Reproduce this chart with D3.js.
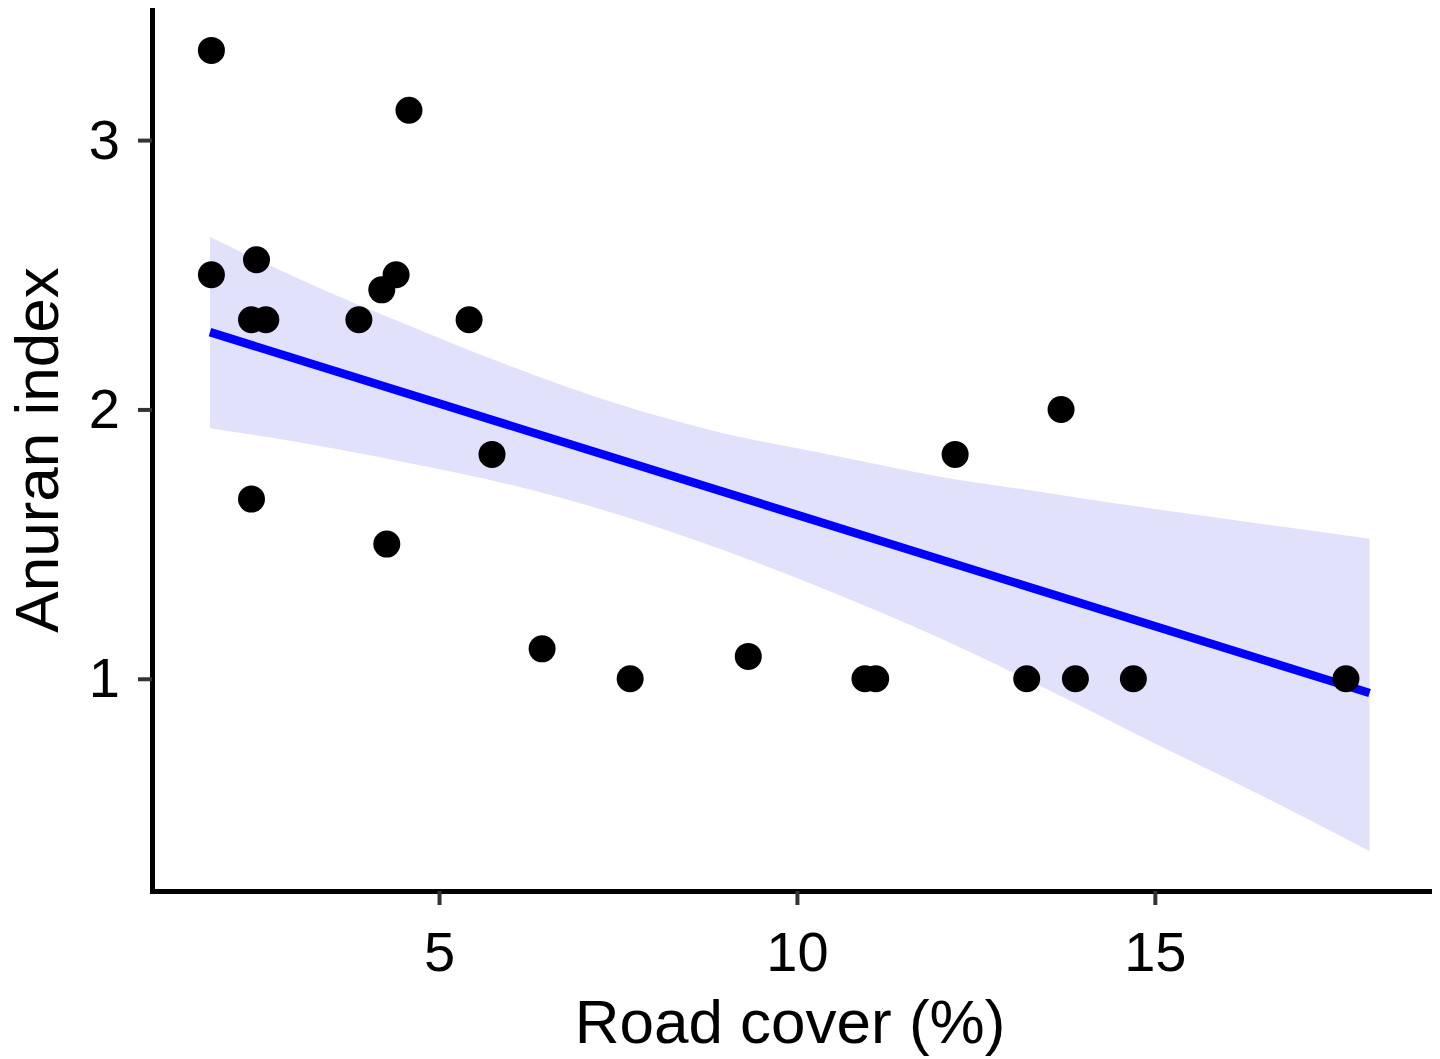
<!DOCTYPE html>
<html>
<head>
<meta charset="utf-8">
<script src="https://cdn.jsdelivr.net/npm/d3@7"></script>
<style>
  body { margin: 0; background: #fff; }
  svg text { font-family: "Liberation Sans", Arial, sans-serif; }
</style>
</head>
<body>
<div id="chart"></div>
<script>
// Road cover (%) vs anuran index, one point per site
var roadCover = [1.82, 1.82, 2.45, 2.38, 2.58, 2.38, 3.88, 4.20, 4.40, 4.58, 4.27, 5.42,
                 5.74, 6.44, 7.67, 9.32, 10.95, 11.10, 12.21, 13.21, 13.69, 13.89, 14.70, 17.67];
var anuranIndex = [3.333, 2.5, 2.556, 2.333, 2.333, 1.667, 2.333, 2.444, 2.5, 3.111, 1.5, 2.333,
                   1.833, 1.111, 1.0, 1.083, 1.0, 1.0, 1.833, 1.0, 2.0, 1.0, 1.0, 1.0];

// linear fit and its 95% band
var fitX = [1.8, 18.0];
var fitY = [2.287, 0.947];
var bandX = [1.8, 3, 4.5, 6, 7.5, 9, 10.5, 12, 13.5, 15, 16.5, 18];
var bandUpper = [2.64, 2.49, 2.32, 2.16, 2.02, 1.91, 1.83, 1.75, 1.69, 1.63, 1.575, 1.52];
var bandLower = [1.93, 1.88, 1.805, 1.72, 1.61, 1.475, 1.32, 1.15, 0.96, 0.76, 0.565, 0.36];

var xTicks = [5, 10, 15];
var yTicks = [1, 2, 3];

var width = 1440, height = 1059;

var svg = d3.select("#chart")
  .append("svg")
    .attr("width", width)
    .attr("height", height);

// scales -> panel spans 152..1429 horizontally, 10..891 vertically
var x = d3.scaleLinear()
  .domain([0.99, 18.83])
  .range([152, 1429]);

var y = d3.scaleLinear()
  .domain([0.212, 3.483])
  .range([891, 10]);

// confidence band
var band = bandX.map((d, i) => ({ x: d, lo: bandLower[i], hi: bandUpper[i] }));
svg.append("path")
  .datum(band)
  .attr("fill", "#e1e1fc")
  .attr("d", d3.area()
    .curve(d3.curveMonotoneX)
    .x((d) => x(d.x))
    .y0((d) => y(d.lo))
    .y1((d) => y(d.hi)));

// fitted line
svg.append("path")
  .datum(fitX.map((d, i) => ({ x: d, y: fitY[i] })))
  .attr("fill", "none")
  .attr("stroke", "#0000ff")
  .attr("stroke-width", 8.5)
  .attr("d", d3.line()
    .x((d) => x(d.x))
    .y((d) => y(d.y)));

// points
var pts = roadCover.map((d, i) => ({ x: d, y: anuranIndex[i] }));
svg.append("g")
  .selectAll("circle")
  .data(pts)
  .enter()
  .append("circle")
    .attr("cx", (d) => x(d.x))
    .attr("cy", (d) => y(d.y))
    .attr("r", 13.5)
    .attr("fill", "#000");

// X axis
var gx = svg.append("g")
  .attr("transform", "translate(0,891)")
  .call(d3.axisBottom(x)
    .tickValues(xTicks)
    .tickFormat(d3.format("d"))
    .tickSize(14)
    .tickSizeOuter(0)
    .tickPadding(26));

// Y axis
var gy = svg.append("g")
  .attr("transform", "translate(152,0)")
  .call(d3.axisLeft(y)
    .tickValues(yTicks)
    .tickFormat(d3.format("d"))
    .tickSize(14)
    .tickSizeOuter(0)
    .tickPadding(18));

[gx, gy].forEach((g) => {
  g.select(".domain")
    .attr("stroke", "#000")
    .attr("stroke-width", 5)
    .attr("stroke-linecap", "square");
  g.selectAll(".tick line")
    .attr("stroke", "#333")
    .attr("stroke-width", 4);
  g.selectAll(".tick text")
    .attr("fill", "#000")
    .style("font-size", "56px");
});

// axis titles
svg.append("text")
  .attr("x", 790)
  .attr("y", 1043)
  .attr("text-anchor", "middle")
  .style("font-size", "62px")
  .text("Road cover (%)");

svg.append("text")
  .attr("transform", "translate(58,450) rotate(-90)")
  .attr("text-anchor", "middle")
  .style("font-size", "62px")
  .text("Anuran index");
</script>
</body>
</html>
